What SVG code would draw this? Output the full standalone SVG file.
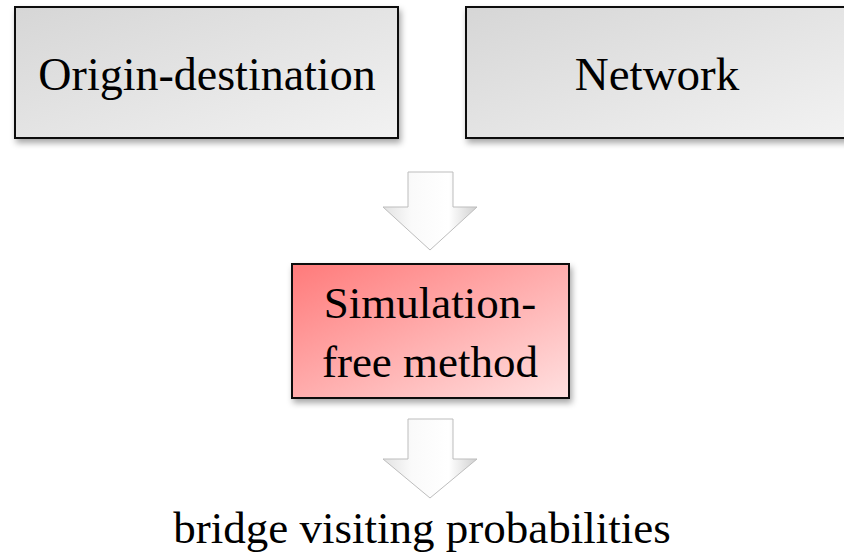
<svg xmlns="http://www.w3.org/2000/svg" width="844" height="555" viewBox="0 0 844 555">
<defs>
<style>
.box{stroke:#111;stroke-width:2}
.t{font-family:"Liberation Serif","Times New Roman",serif;fill:#000;text-anchor:middle}
.arr{fill:url(#ga);stroke:#bdbdbd;stroke-width:1}
</style>
<linearGradient id="gg" x1="0" y1="0" x2="1" y2="1">
<stop offset="0" stop-color="#d6d6d6"/>
<stop offset="1" stop-color="#f2f2f2"/>
</linearGradient>
<linearGradient id="gr" x1="0" y1="0" x2="1" y2="1">
<stop offset="0" stop-color="#ff7a7a"/>
<stop offset="1" stop-color="#ffe0e0"/>
</linearGradient>
<linearGradient id="ga" x1="0" y1="0" x2="1" y2="0">
<stop offset="0" stop-color="#e2e2e2"/>
<stop offset="0.3" stop-color="#fafafa"/>
<stop offset="0.7" stop-color="#ffffff"/>
<stop offset="1" stop-color="#cfcfcf"/>
</linearGradient>
<filter id="sh" x="-10%" y="-10%" width="120%" height="130%">
<feDropShadow dx="2" dy="4" stdDeviation="3" flood-color="#000" flood-opacity="0.35"/>
</filter>
</defs>
<g id="origin-destination">
<rect class="box" x="15" y="7" width="383" height="131" fill="url(#gg)" filter="url(#sh)"/>
<text class="t" x="207" y="90" font-size="46">Origin-destination</text>
</g>
<g id="network">
<rect class="box" x="466" y="7" width="383" height="131" fill="url(#gg)" filter="url(#sh)"/>
<text class="t" x="657" y="90" font-size="47">Network</text>
</g>
<g id="simulation-free-method">
<rect class="box" x="292" y="264" width="277" height="134" fill="url(#gr)" filter="url(#sh)"/>
<text class="t" x="430" y="318" font-size="45">Simulation-</text>
<text class="t" x="430" y="377" font-size="45">free method</text>
</g>
<g id="result">
<text class="t" x="422" y="543" font-size="45">bridge visiting probabilities</text>
</g>
<g id="connectors">
<polygon class="arr" points="408,172 453,172 453,207 477,207 430,250 383,207 408,207"/>
<polygon class="arr" points="408,419 453,419 453,459 477,459 430,498 383,459 408,459"/>
</g>
</svg>
